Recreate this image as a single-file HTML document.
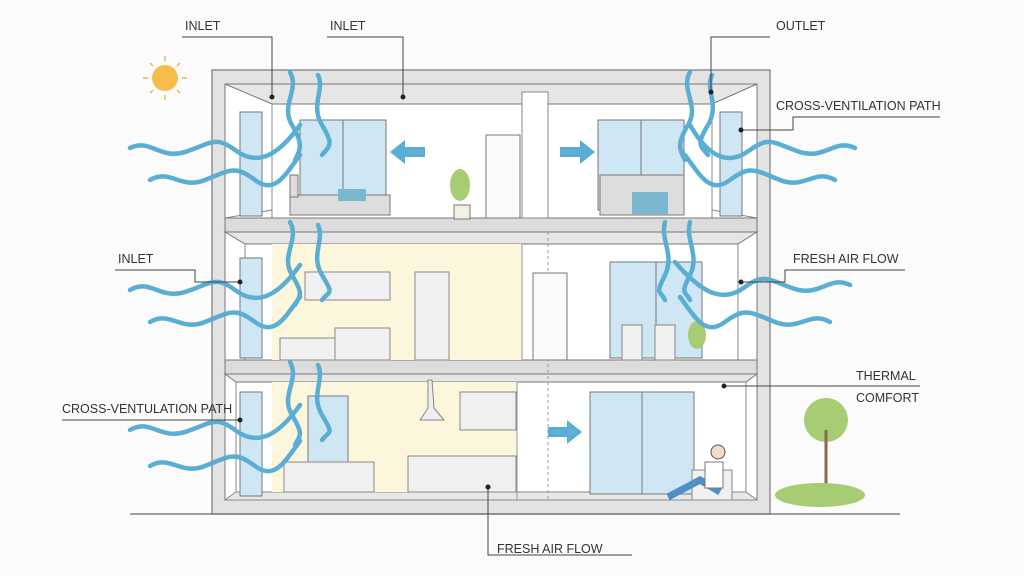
<!DOCTYPE html>
<html><head><meta charset="utf-8"><style>
html,body{margin:0;padding:0;background:#fbfbfb;}
svg{display:block}
text{font-family:"Liberation Sans",sans-serif;font-size:12.5px;fill:#333;}
</style></head><body>
<svg width="1024" height="576" viewBox="0 0 1024 576" xmlns="http://www.w3.org/2000/svg">
<rect width="1024" height="576" fill="#fbfbfb"/>
<!-- sun -->
<g stroke="#f4b63f" stroke-width="1.5">
<line x1="165" y1="56" x2="165" y2="61"/><line x1="165" y1="95" x2="165" y2="100"/>
<line x1="143" y1="78" x2="148" y2="78"/><line x1="182" y1="78" x2="187" y2="78"/>
<line x1="150" y1="63" x2="153" y2="66"/><line x1="177" y1="90" x2="180" y2="93"/>
<line x1="180" y1="63" x2="177" y2="66"/><line x1="153" y1="90" x2="150" y2="93"/>
</g>
<circle cx="165" cy="78" r="13" fill="#f6bd4a"/>
<!-- building shell -->
<rect x="212" y="70" width="558" height="444" fill="#e3e3e3" stroke="#777" stroke-width="1.2"/>
<!-- floors interiors -->
<rect x="225" y="84" width="532" height="134" fill="#fff" stroke="#777"/>
<rect x="225" y="232" width="532" height="128" fill="#fff" stroke="#777"/>
<rect x="225" y="374" width="532" height="126" fill="#fff" stroke="#777"/>
<!-- ceilings (perspective) -->
<polygon points="225,84 757,84 712,104 272,104" fill="#e6e6e6" stroke="#777"/>
<polygon points="225,232 757,232 738,244 245,244" fill="#e6e6e6" stroke="#777"/>
<polygon points="225,374 757,374 746,382 236,382" fill="#e6e6e6" stroke="#777"/>
<!-- side walls lines -->
<g stroke="#888" fill="none">
<line x1="272" y1="104" x2="272" y2="218"/><line x1="712" y1="104" x2="712" y2="218"/>
<line x1="245" y1="244" x2="245" y2="360"/><line x1="738" y1="244" x2="738" y2="360"/>
<line x1="236" y1="382" x2="236" y2="500"/><line x1="746" y1="382" x2="746" y2="500"/>
<line x1="225" y1="218" x2="272" y2="210"/><line x1="757" y1="218" x2="712" y2="210"/>
</g>
<!-- floor slabs -->
<rect x="225" y="218" width="532" height="14" fill="#dcdcdc" stroke="#777"/>
<rect x="225" y="360" width="532" height="14" fill="#dcdcdc" stroke="#777"/>
<polygon points="225,500 757,500 746,492 236,492" fill="#e8e8e8" stroke="#888"/>
<!-- yellow rooms -->
<rect x="272" y="244" width="250" height="116" fill="#fbf6dc"/>
<rect x="272" y="382" width="245" height="110" fill="#fbf6dc"/>
<!-- center column -->
<rect x="522" y="92" width="26" height="126" fill="#fff" stroke="#888"/>
<line x1="548" y1="232" x2="548" y2="500" stroke="#999" stroke-dasharray="3,3"/>
<line x1="522" y1="244" x2="522" y2="360" stroke="#999"/>
<line x1="517" y1="382" x2="517" y2="500" stroke="#999"/>
<!-- windows -->
<g fill="#cfe6f5" stroke="#777">
<rect x="240" y="112" width="22" height="104"/><rect x="720" y="112" width="22" height="104"/>
<rect x="300" y="120" width="86" height="90"/><rect x="598" y="120" width="86" height="90"/>
<rect x="240" y="258" width="22" height="100"/><rect x="610" y="262" width="92" height="96"/>
<rect x="240" y="392" width="22" height="104"/><rect x="308" y="396" width="40" height="70"/>
<rect x="590" y="392" width="104" height="102"/>
</g>
<g stroke="#777"><line x1="343" y1="120" x2="343" y2="210"/><line x1="641" y1="120" x2="641" y2="210"/><line x1="656" y1="262" x2="656" y2="358"/><line x1="642" y1="392" x2="642" y2="494"/></g>
<!-- doors -->
<rect x="486" y="135" width="34" height="83" fill="#fafafa" stroke="#777"/>
<rect x="533" y="273" width="34" height="87" fill="#fafafa" stroke="#777"/>
<!-- beds -->
<rect x="290" y="195" width="100" height="20" fill="#ddd" stroke="#777"/><rect x="290" y="175" width="8" height="22" fill="#ddd" stroke="#777"/>
<rect x="338" y="189" width="28" height="12" fill="#7bb8cf"/>
<rect x="600" y="175" width="84" height="40" fill="#ddd" stroke="#777"/><rect x="632" y="192" width="36" height="22" fill="#7bb8cf"/>
<!-- plants -->
<rect x="454" y="205" width="16" height="14" fill="#f3efe3" stroke="#777"/>
<ellipse cx="460" cy="185" rx="10" ry="16" fill="#a8cc74"/>
<ellipse cx="697" cy="335" rx="9" ry="14" fill="#a8cc74"/>
<!-- kitchen mid -->
<g fill="#f0f0f0" stroke="#888">
<rect x="305" y="272" width="85" height="28"/><rect x="415" y="272" width="34" height="88"/>
<rect x="280" y="338" width="70" height="22"/><rect x="335" y="328" width="55" height="32"/>
<rect x="622" y="325" width="20" height="35"/><rect x="655" y="325" width="20" height="35"/>
<!-- kitchen bottom -->
<rect x="460" y="392" width="56" height="38"/><rect x="408" y="456" width="108" height="36"/>
<rect x="284" y="462" width="90" height="30"/><rect x="692" y="470" width="40" height="30"/>
</g>
<polygon points="420,420 444,420 434,408 432,380 428,380 428,408" fill="#eee" stroke="#888"/>
<!-- person -->
<circle cx="718" cy="452" r="7" fill="#f1dcc7" stroke="#555"/>
<path d="M668,497 L700,480 L720,492" stroke="#4f8fc5" stroke-width="7" fill="none"/>
<rect x="705" y="462" width="18" height="26" fill="#fff" stroke="#777"/>
<!-- trees -->
<circle cx="826" cy="420" r="22" fill="#a8cc74"/><line x1="826" y1="430" x2="826" y2="495" stroke="#8b6b4a" stroke-width="3"/>
<ellipse cx="820" cy="495" rx="45" ry="12" fill="#a8cc74"/>
<!-- ground -->
<line x1="130" y1="514" x2="900" y2="514" stroke="#666" stroke-width="1.2"/>
<!-- blue arrows -->
<g fill="#5aaed3">
<polygon points="390,152 405,140 405,147 425,147 425,157 405,157 405,164"/>
<polygon points="595,152 580,140 580,147 560,147 560,157 580,157 580,164"/>
<polygon points="582,432 567,420 567,427 548,427 548,437 567,437 567,444"/>
</g>
<!-- waves -->
<g stroke="#5aaed3" stroke-width="4.5" fill="none" stroke-linecap="round">
<path d="M130,148 C150,138 160,160 185,152 S215,135 235,150 S275,160 300,125"/>
<path d="M150,180 C170,168 180,190 205,180 S235,165 255,180 S285,175 300,155"/>
<path d="M290,72 C300,90 280,105 292,125 S300,150 295,160"/>
<path d="M318,75 C325,90 310,105 322,125 S330,145 322,155"/>
<path d="M855,148 C835,138 825,160 800,152 S770,135 750,150 S710,160 690,125"/>
<path d="M835,180 C815,168 805,190 780,180 S750,165 730,180 S700,175 685,155"/>
<path d="M690,72 C680,90 700,105 688,125 S680,150 685,160"/>
<path d="M712,75 C705,90 720,105 708,125 S700,145 708,155"/>
<path d="M130,290 C150,278 160,300 185,292 S215,275 235,290 S275,300 300,265"/>
<path d="M150,322 C170,310 180,332 205,322 S235,307 255,322 S285,317 300,297"/>
<path d="M290,222 C300,240 280,255 292,275 S300,295 295,305"/>
<path d="M318,225 C325,240 310,255 322,275 S330,290 322,300"/>
<path d="M850,285 C830,275 820,297 795,289 S765,272 745,287 S705,297 675,262"/>
<path d="M830,322 C810,310 800,332 775,322 S745,307 725,322 S695,317 680,297"/>
<path d="M665,222 C660,240 675,255 665,275 S660,290 665,300"/>
<path d="M690,222 C685,240 700,255 690,275 S685,290 690,300"/>
<path d="M130,430 C150,418 160,440 185,432 S215,415 235,430 S275,440 300,405"/>
<path d="M150,466 C170,454 180,476 205,466 S235,451 255,466 S285,461 300,441"/>
<path d="M290,362 C300,380 280,395 292,415 S300,435 295,445"/>
<path d="M318,365 C325,380 310,395 322,415 S330,430 322,440"/>
</g>
<!-- leaders -->
<g stroke="#444" fill="none" stroke-width="1">
<polyline points="182,37 272,37 272,97"/><polyline points="327,37 403,37 403,97"/>
<polyline points="770,37 711,37 711,92"/><polyline points="940,117 793,117 793,130 741,130"/>
<polyline points="115,270 195,270 195,282 240,282"/><polyline points="905,270 785,270 785,282 741,282"/>
<polyline points="920,386 724,386"/><polyline points="62,420 240,420"/>
<polyline points="488,487 488,555 632,555"/>
</g>
<g fill="#222"><circle cx="272" cy="97" r="2.5"/><circle cx="403" cy="97" r="2.5"/><circle cx="711" cy="92" r="2.5"/><circle cx="741" cy="130" r="2.5"/><circle cx="240" cy="282" r="2.5"/><circle cx="741" cy="282" r="2.5"/><circle cx="724" cy="386" r="2.5"/><circle cx="240" cy="420" r="2.5"/><circle cx="488" cy="487" r="2.5"/></g>
<text x="185" y="30">INLET</text><text x="330" y="30">INLET</text><text x="776" y="30">OUTLET</text>
<text x="776" y="110">CROSS-VENTILATION PATH</text>
<text x="118" y="263">INLET</text><text x="793" y="263">FRESH AIR  FLOW</text>
<text x="856" y="380">THERMAL</text><text x="856" y="402">COMFORT</text>
<text x="62" y="413">CROSS-VENTULATION PATH</text>
<text x="497" y="553">FRESH AIR FLOW</text>
</svg>
</body></html>
